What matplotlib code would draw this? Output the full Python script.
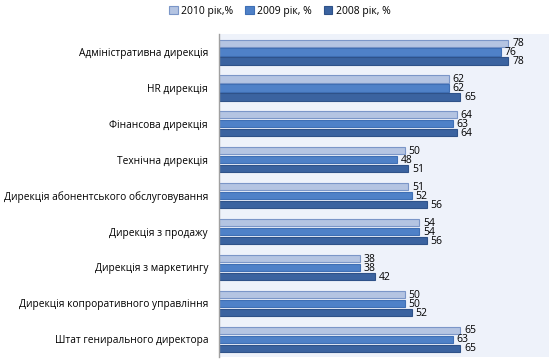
import matplotlib
matplotlib.use("Agg")
import matplotlib.pyplot as plt
import numpy as np

plt.rcParams['font.family'] = ['Open Sans', 'DejaVu Sans']

categories = [
    'Адміністративна дирекція',
    'HR дирекція',
    'Фінансова дирекція',
    'Технічна дирекція',
    'Дирекція абонентського обслуговування',
    'Дирекція з продажу',
    'Дирекція з маркетингу',
    'Дирекція копроративного управління',
    'Штат генирального директора',
]
series_names = ['2010 рік,%', '2009 рік, %', '2008 рік, %']
v2010 = [78, 62, 64, 50, 51, 54, 38, 50, 65]
v2009 = [76, 62, 63, 48, 52, 54, 38, 50, 63]
v2008 = [78, 65, 64, 51, 56, 56, 42, 52, 65]

fills = ['#b4c4e2', '#4f81c8', '#3b63a0']
edges = ['#7b96c8', '#3f6fb5', '#2f5289']

fig = plt.figure(figsize=(5.52, 3.63), dpi=100)
ax = fig.add_axes([0.397, 0.016, 0.598, 0.89])
ax.set_facecolor('#eef2fa')

y = np.arange(len(categories))
offsets = [-0.25, 0.0, 0.25]
h = 0.2
handles = []
for vals, off, fc, ec, name in zip([v2010, v2009, v2008], offsets, fills, edges, series_names):
    bars = ax.barh(y + off, vals, height=h, color=fc, edgecolor=ec, linewidth=0.8, label=name)
    handles.append(bars)
    for yy, v in zip(y + off, vals):
        ax.text(v + 1.0, yy + 0.02, str(v), va='center', ha='left', fontsize=7.5, color='#000000')

ax.set_xlim(0, 89)
ax.set_ylim(len(categories) - 0.5, -0.5)
ax.set_yticks(y)
ax.set_yticklabels(categories, fontsize=7.3)
ax.set_xticks([])
ax.tick_params(axis='y', length=0, pad=8)
for s in ['top', 'right', 'bottom']:
    ax.spines[s].set_visible(False)
ax.spines['left'].set_color('#a0a0a0')
ax.spines['left'].set_linewidth(1.0)

fig.legend(handles=handles, labels=series_names, loc='upper center', bbox_to_anchor=(0.507, 1.01),
           ncol=3, frameon=False, fontsize=7.5, handlelength=0.8, handleheight=0.8,
           handletextpad=0.3, columnspacing=1.2)

fig.savefig('out.png', dpi=100)
